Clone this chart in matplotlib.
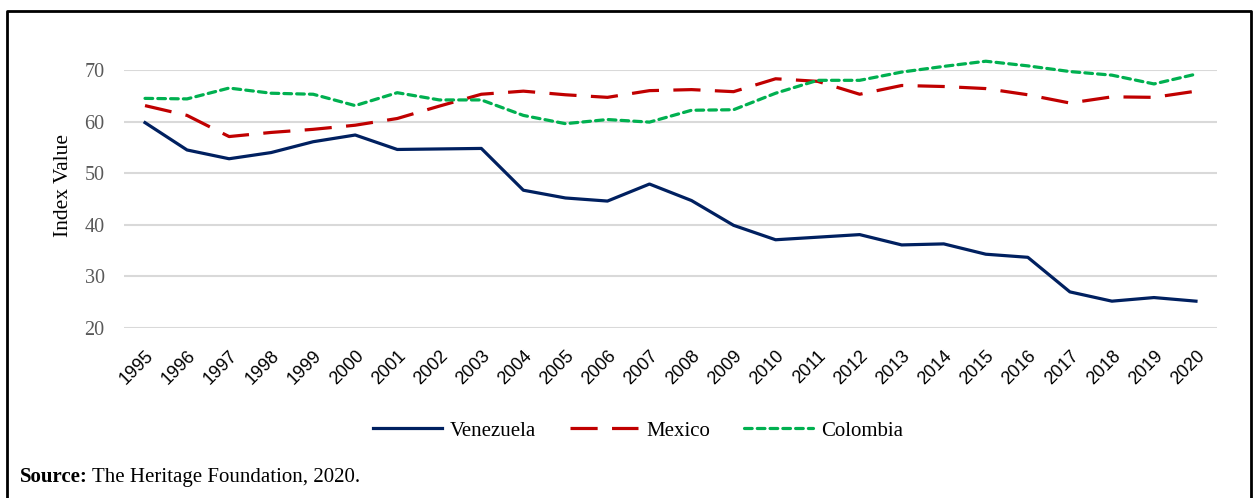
import matplotlib
matplotlib.use('Agg')
import matplotlib.pyplot as plt
from matplotlib.lines import Line2D
import matplotlib.transforms as mtransforms

# Economic freedom index values
years = [str(y) for y in range(1995, 2021)]
venezuela = [59.8, 54.5, 52.8, 54.0, 56.1, 57.4, 54.6, 54.7, 54.8, 46.7, 45.2, 44.6, 47.9,
             44.7, 39.9, 37.1, 37.6, 38.1, 36.1, 36.3, 34.3, 33.7, 27.0, 25.2, 25.9, 25.2]
mexico = [63.1, 61.2, 57.1, 57.9, 58.5, 59.3, 60.6, 63.0, 65.3, 65.9, 65.2, 64.7, 66.0,
          66.2, 65.8, 68.3, 67.8, 65.3, 67.0, 66.8, 66.4, 65.2, 63.6, 64.8, 64.7, 65.9]
colombia = [64.5, 64.4, 66.5, 65.5, 65.3, 63.1, 65.6, 64.2, 64.2, 61.2, 59.6, 60.4, 59.9,
            62.2, 62.3, 65.5, 68.0, 68.0, 69.6, 70.7, 71.7, 70.8, 69.7, 69.0, 67.3, 69.2]
yticks = [20, 30, 40, 50, 60, 70]

SERIF = 'Liberation Serif'
SANS = 'Liberation Sans'

fig = plt.figure(figsize=(12.53, 4.98), dpi=100)
ax = fig.add_axes([124 / 1253, 1 - 328 / 498, (1217 - 124) / 1253, (328 - 70) / 498])

x = list(range(len(years)))
lw = 2.3
ax.plot(x, venezuela, color='#002060', lw=lw, solid_joinstyle='round', clip_on=False,
        label='Venezuela', zorder=3)
ax.plot(x, mexico, color='#C00000', lw=lw, dashes=(8.5, 4.5), dash_capstyle='butt',
        clip_on=False, label='Mexico', zorder=3)
ax.plot(x, colombia, color='#00B050', lw=lw, dashes=(2.4, 1.6), dash_capstyle='round',
        clip_on=False, label='Colombia', zorder=3)

ax.set_xlim(-0.5, len(years) - 0.5)
ax.set_ylim(20, 70)
ax.set_yticks(yticks)
ax.set_yticklabels([str(v) for v in yticks], fontfamily=SERIF, fontsize=14.5, color='#595959')
ax.set_xticks(x)
ax.set_xticklabels(years, rotation=45, ha='right', va='top', rotation_mode='anchor',
                   fontfamily=SANS, fontsize=13, color='black')
offset = mtransforms.ScaledTranslation(2 / 100, 0, fig.dpi_scale_trans)
for lab in ax.get_xticklabels():
    lab.set_transform(lab.get_transform() + offset)
ax.tick_params(axis='both', length=0)
ax.tick_params(axis='y', pad=14)
ax.tick_params(axis='x', pad=14)
ax.grid(axis='y', color='#D9D9D9', lw=1.5)
ax.set_axisbelow(True)
for s in ax.spines.values():
    s.set_visible(False)
ax.set_ylabel('Index Value', fontfamily=SERIF, fontsize=15.5)
ax.yaxis.set_label_coords(-0.047, 0.552)

leg = fig.legend(handles=ax.get_lines(), loc='center', bbox_to_anchor=(638 / 1253, 1 - 431 / 498),
                 ncol=3, frameon=False, handlelength=3.3, columnspacing=1.6, handletextpad=0.4,
                 prop={'family': SERIF, 'size': 15})

# Source note with bold lead-in
t1 = fig.text(20 / 1253, 1 - 477 / 498, 'Source:', fontfamily=SERIF, fontsize=15,
              fontweight='bold', va='center')
fig.canvas.draw()
bb = t1.get_window_extent()
fig.text((bb.x1 + 4) / 1253, 1 - 477 / 498, 'The Heritage Foundation, 2020.',
         fontfamily=SERIF, fontsize=15, va='center')

# Frame around the figure
fx = [7 / 1253, 7 / 1253, 1251 / 1253, 1251 / 1253]
fy = [0, 1 - 11 / 498, 1 - 11 / 498, 0]
fig.add_artist(Line2D(fx, fy, color='black', lw=2, transform=fig.transFigure))

fig.savefig('out.png', dpi=100)
